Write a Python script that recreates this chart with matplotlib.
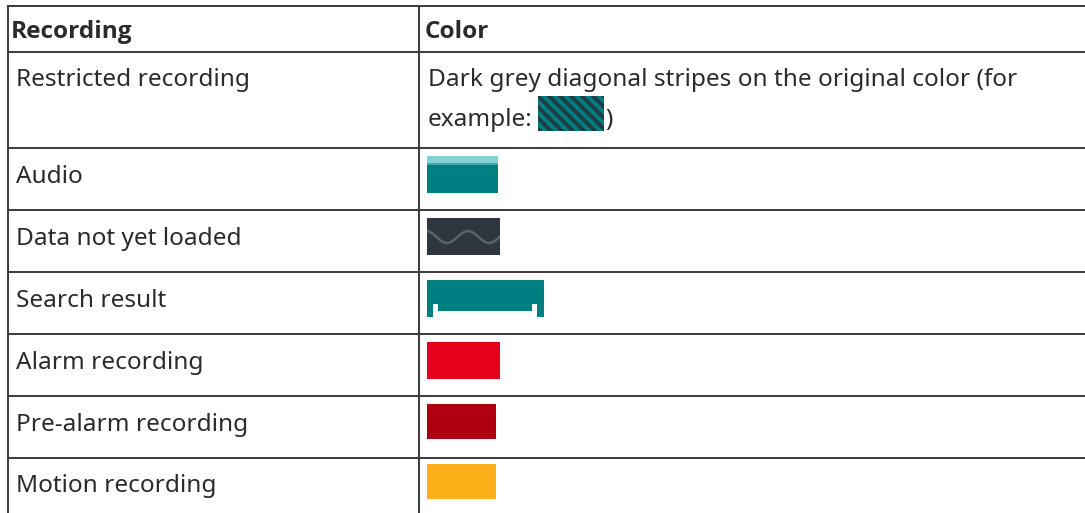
import numpy as np
import matplotlib
matplotlib.use("Agg")
import matplotlib.pyplot as plt
from matplotlib.patches import Rectangle

# ---- data ----
header = ["Recording", "Color"]
recordings = ["Restricted recording", "Audio", "Data not yet loaded", "Search result",
              "Alarm recording", "Pre-alarm recording", "Motion recording"]
restricted_text = ["Dark grey diagonal stripes on the original color (for", "example:"]
teal = "#007f80"
audio_top = "#80d2d4"
notloaded_bg = "#30363f"
notloaded_wave = "#56646b"
alarm_color = "#e8001a"
prealarm_color = "#ae0010"
motion_color = "#fdaf1a"
stripe_color = "#1f3d44"

W, H = 1085, 513
plt.rcParams['font.family'] = ['Noto Sans', 'DejaVu Sans']
fig = plt.figure(figsize=(W / 100, H / 100), dpi=100)
ax = fig.add_axes([0, 0, 1, 1])
ax.set_xlim(0, W)
ax.set_ylim(H, 0)
ax.axis("off")

txt_color = "#2b2b2b"
fs = 17.55
line_c = "#3a3a3a"
lw = 1.4
dy = 2

# grid lines
row_lines = [6, 52, 148, 210, 272, 334, 396, 458]
for y in row_lines:
    ax.plot([8, W], [y, y], color=line_c, lw=lw, solid_capstyle="butt")
ax.plot([8, 8], [6, H], color=line_c, lw=lw)
ax.plot([419, 419], [6, H], color=line_c, lw=lw)

# header
ax.text(11, 30 + dy, header[0], fontsize=fs, fontweight="bold", family=["Open Sans", "DejaVu Sans"],
        color=txt_color, va="center", ha="left")
ax.text(425, 30 + dy, header[1], fontsize=fs, fontweight="bold", family=["Open Sans", "DejaVu Sans"],
        color=txt_color, va="center", ha="left")

# left column text
row_centers = [78, 175, 237, 299, 361, 423, 484]
for label, yc in zip(recordings, row_centers):
    ax.text(16, yc + dy, label, fontsize=fs, color=txt_color, va="center", ha="left")

# restricted text
ax.text(428, 78 + dy, restricted_text[0], fontsize=fs, color=txt_color, va="center", ha="left")
ax.text(428, 118 + dy, restricted_text[1], fontsize=fs, color=txt_color, va="center", ha="left")
ax.text(605, 118 + dy, ")", fontsize=fs, color=txt_color, va="center", ha="left")

# striped swatch
sx0, sx1, sy0, sy1 = 538, 604, 96, 131
rect = Rectangle((sx0, sy0), sx1 - sx0, sy1 - sy0, color=teal, lw=0)
ax.add_patch(rect)
for k in range(-6, 10):
    x0 = sx0 + k * 11
    ln, = ax.plot([x0, x0 + 50], [sy0, sy0 + 50], color=stripe_color, lw=2.8)
    ln.set_clip_path(rect)

# audio
ax.add_patch(Rectangle((427, 156), 71, 37, color=teal, lw=0))
ax.add_patch(Rectangle((427, 156), 71, 7, color=audio_top, lw=0))
ax.add_patch(Rectangle((427, 163), 71, 1.5, color="#3fa9aa", lw=0))

# data not loaded
nl = Rectangle((427, 218), 73, 37, color=notloaded_bg, lw=0)
ax.add_patch(nl)
xs = np.linspace(420, 505, 300)
wv, = ax.plot(xs, 237 - 6 * np.cos((xs - 426) / 42 * 2 * np.pi), color=notloaded_wave, lw=1.8)
wv.set_clip_path(nl)

# search result
ax.add_patch(Rectangle((427, 280), 117, 37, color=teal, lw=0))
ax.add_patch(Rectangle((433, 311), 104, 6, color="white", lw=0))
ax.add_patch(Rectangle((433, 304), 5, 13, color="white", lw=0))
ax.add_patch(Rectangle((532, 304), 5, 13, color="white", lw=0))

# alarm, pre-alarm, motion
ax.add_patch(Rectangle((427, 342), 73, 37, color=alarm_color, lw=0))
ax.add_patch(Rectangle((427, 404), 69, 35, color=prealarm_color, lw=0))
ax.add_patch(Rectangle((427, 464), 69, 35, color=motion_color, lw=0))

fig.savefig("out.png", dpi=100)
